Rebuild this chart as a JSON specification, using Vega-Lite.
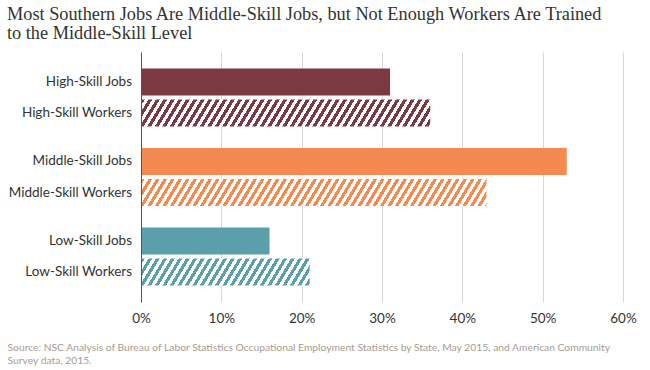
{
  "$schema": "https://vega.github.io/schema/vega-lite/v6.json",
  "width": 482,
  "height": 250,
  "autosize": "none",
  "padding": {"left": 141, "top": 52, "right": 27, "bottom": 68},
  "background": "white",
  "config": {"view": {"stroke": null}},
  "title": {
    "text": ["Most Southern Jobs Are Middle-Skill Jobs, but Not Enough Workers Are Trained", "to the Middle-Skill Level"],
    "anchor": "start",
    "frame": "group",
    "dx": -134,
    "offset": 9,
    "font": "Liberation Serif",
    "fontSize": 18.3,
    "fontWeight": "normal",
    "color": "#333333",
    "lineHeight": 19
  },
  "data": {
    "values": [
      {"group": "High", "type": "Jobs", "label": "High-Skill Jobs", "value": 31},
      {"group": "High", "type": "Workers", "label": "High-Skill Workers", "value": 36},
      {"group": "Middle", "type": "Jobs", "label": "Middle-Skill Jobs", "value": 53},
      {"group": "Middle", "type": "Workers", "label": "Middle-Skill Workers", "value": 43},
      {"group": "Low", "type": "Jobs", "label": "Low-Skill Jobs", "value": 16},
      {"group": "Low", "type": "Workers", "label": "Low-Skill Workers", "value": 21}
    ]
  },
  "encoding": {
    "y": {
      "field": "group",
      "type": "nominal",
      "sort": ["High", "Middle", "Low"],
      "scale": {"paddingInner": 0, "paddingOuter": 0.072},
      "axis": {"title": null, "labels": false, "ticks": false, "domain": true, "domainColor": "#555555", "domainWidth": 1, "grid": false, "zindex": 1}
    },
    "yOffset": {
      "field": "type",
      "type": "nominal",
      "sort": ["Jobs", "Workers"],
      "scale": {"paddingInner": 0.129, "paddingOuter": 0.347}
    },
    "x": {
      "field": "value",
      "type": "quantitative",
      "scale": {"domain": [0, 60], "nice": false},
      "axis": {
        "values": [0, 10, 20, 30, 40, 50, 60],
        "labelExpr": "datum.value + '%'",
        "labelFlush": false,
        "grid": true,
        "gridColor": "#d9d9d9",
        "gridWidth": 1,
        "domain": false,
        "ticks": false,
        "labelFont": "Lato",
        "labelFontSize": 13.5,
        "labelColor": "#333333",
        "labelPadding": 9,
        "title": ["Source: NSC Analysis of Bureau of Labor Statistics Occupational Employment Statistics by State, May 2015, and American Community", "Survey data, 2015."],
        "titleX": -134,
        "titleY": 48,
        "titleAlign": "left",
        "titleAnchor": "start",
        "titleBaseline": "alphabetic",
        "titleFont": "Lato",
        "titleFontSize": 10.3,
        "titleFontWeight": "normal",
        "titleColor": "#a89b90",
        "titleLineHeight": 13,
        "zindex": 0
      }
    }
  },
  "layer": [
    {
      "transform": [{"filter": "datum.type == 'Jobs'"}],
      "mark": {"type": "bar", "strokeWidth": 0},
      "encoding": {
        "color": {
          "field": "group",
          "type": "nominal",
          "scale": {"domain": ["High", "Middle", "Low"], "range": ["#7b3942", "#f48a50", "#5b9faa"]},
          "legend": null
        }
      }
    },
    {
      "transform": [{"filter": "datum.label == 'High-Skill Workers'"}],
      "mark": {
        "type": "bar",
        "strokeWidth": 0,
        "fill": {
          "gradient": "linear", "x1": 0, "y1": 0, "x2": 1.29262, "y2": 0.072408,
          "stops": [
            {"offset":0,"color":"#7b3942"},{"offset":0.01,"color":"#7b3942"},{"offset":0.01,"color":"#fff"},{"offset":0.02,"color":"#fff"},
            {"offset":0.02,"color":"#7b3942"},{"offset":0.03,"color":"#7b3942"},{"offset":0.03,"color":"#fff"},{"offset":0.04,"color":"#fff"},
            {"offset":0.04,"color":"#7b3942"},{"offset":0.05,"color":"#7b3942"},{"offset":0.05,"color":"#fff"},{"offset":0.06,"color":"#fff"},
            {"offset":0.06,"color":"#7b3942"},{"offset":0.07,"color":"#7b3942"},{"offset":0.07,"color":"#fff"},{"offset":0.08,"color":"#fff"},
            {"offset":0.08,"color":"#7b3942"},{"offset":0.09,"color":"#7b3942"},{"offset":0.09,"color":"#fff"},{"offset":0.10,"color":"#fff"},
            {"offset":0.10,"color":"#7b3942"},{"offset":0.11,"color":"#7b3942"},{"offset":0.11,"color":"#fff"},{"offset":0.12,"color":"#fff"},
            {"offset":0.12,"color":"#7b3942"},{"offset":0.13,"color":"#7b3942"},{"offset":0.13,"color":"#fff"},{"offset":0.14,"color":"#fff"},
            {"offset":0.14,"color":"#7b3942"},{"offset":0.15,"color":"#7b3942"},{"offset":0.15,"color":"#fff"},{"offset":0.16,"color":"#fff"},
            {"offset":0.16,"color":"#7b3942"},{"offset":0.17,"color":"#7b3942"},{"offset":0.17,"color":"#fff"},{"offset":0.18,"color":"#fff"},
            {"offset":0.18,"color":"#7b3942"},{"offset":0.19,"color":"#7b3942"},{"offset":0.19,"color":"#fff"},{"offset":0.20,"color":"#fff"},
            {"offset":0.20,"color":"#7b3942"},{"offset":0.21,"color":"#7b3942"},{"offset":0.21,"color":"#fff"},{"offset":0.22,"color":"#fff"},
            {"offset":0.22,"color":"#7b3942"},{"offset":0.23,"color":"#7b3942"},{"offset":0.23,"color":"#fff"},{"offset":0.24,"color":"#fff"},
            {"offset":0.24,"color":"#7b3942"},{"offset":0.25,"color":"#7b3942"},{"offset":0.25,"color":"#fff"},{"offset":0.26,"color":"#fff"},
            {"offset":0.26,"color":"#7b3942"},{"offset":0.27,"color":"#7b3942"},{"offset":0.27,"color":"#fff"},{"offset":0.28,"color":"#fff"},
            {"offset":0.28,"color":"#7b3942"},{"offset":0.29,"color":"#7b3942"},{"offset":0.29,"color":"#fff"},{"offset":0.30,"color":"#fff"},
            {"offset":0.30,"color":"#7b3942"},{"offset":0.31,"color":"#7b3942"},{"offset":0.31,"color":"#fff"},{"offset":0.32,"color":"#fff"},
            {"offset":0.32,"color":"#7b3942"},{"offset":0.33,"color":"#7b3942"},{"offset":0.33,"color":"#fff"},{"offset":0.34,"color":"#fff"},
            {"offset":0.34,"color":"#7b3942"},{"offset":0.35,"color":"#7b3942"},{"offset":0.35,"color":"#fff"},{"offset":0.36,"color":"#fff"},
            {"offset":0.36,"color":"#7b3942"},{"offset":0.37,"color":"#7b3942"},{"offset":0.37,"color":"#fff"},{"offset":0.38,"color":"#fff"},
            {"offset":0.38,"color":"#7b3942"},{"offset":0.39,"color":"#7b3942"},{"offset":0.39,"color":"#fff"},{"offset":0.40,"color":"#fff"},
            {"offset":0.40,"color":"#7b3942"},{"offset":0.41,"color":"#7b3942"},{"offset":0.41,"color":"#fff"},{"offset":0.42,"color":"#fff"},
            {"offset":0.42,"color":"#7b3942"},{"offset":0.43,"color":"#7b3942"},{"offset":0.43,"color":"#fff"},{"offset":0.44,"color":"#fff"},
            {"offset":0.44,"color":"#7b3942"},{"offset":0.45,"color":"#7b3942"},{"offset":0.45,"color":"#fff"},{"offset":0.46,"color":"#fff"},
            {"offset":0.46,"color":"#7b3942"},{"offset":0.47,"color":"#7b3942"},{"offset":0.47,"color":"#fff"},{"offset":0.48,"color":"#fff"},
            {"offset":0.48,"color":"#7b3942"},{"offset":0.49,"color":"#7b3942"},{"offset":0.49,"color":"#fff"},{"offset":0.50,"color":"#fff"},
            {"offset":0.50,"color":"#7b3942"},{"offset":0.51,"color":"#7b3942"},{"offset":0.51,"color":"#fff"},{"offset":0.52,"color":"#fff"},
            {"offset":0.52,"color":"#7b3942"},{"offset":0.53,"color":"#7b3942"},{"offset":0.53,"color":"#fff"},{"offset":0.54,"color":"#fff"},
            {"offset":0.54,"color":"#7b3942"},{"offset":0.55,"color":"#7b3942"},{"offset":0.55,"color":"#fff"},{"offset":0.56,"color":"#fff"},
            {"offset":0.56,"color":"#7b3942"},{"offset":0.57,"color":"#7b3942"},{"offset":0.57,"color":"#fff"},{"offset":0.58,"color":"#fff"},
            {"offset":0.58,"color":"#7b3942"},{"offset":0.59,"color":"#7b3942"},{"offset":0.59,"color":"#fff"},{"offset":0.60,"color":"#fff"},
            {"offset":0.60,"color":"#7b3942"},{"offset":0.61,"color":"#7b3942"},{"offset":0.61,"color":"#fff"},{"offset":0.62,"color":"#fff"},
            {"offset":0.62,"color":"#7b3942"},{"offset":0.63,"color":"#7b3942"},{"offset":0.63,"color":"#fff"},{"offset":0.64,"color":"#fff"},
            {"offset":0.64,"color":"#7b3942"},{"offset":0.65,"color":"#7b3942"},{"offset":0.65,"color":"#fff"},{"offset":0.66,"color":"#fff"},
            {"offset":0.66,"color":"#7b3942"},{"offset":0.67,"color":"#7b3942"},{"offset":0.67,"color":"#fff"},{"offset":0.68,"color":"#fff"},
            {"offset":0.68,"color":"#7b3942"},{"offset":0.69,"color":"#7b3942"},{"offset":0.69,"color":"#fff"},{"offset":0.70,"color":"#fff"},
            {"offset":0.70,"color":"#7b3942"},{"offset":0.71,"color":"#7b3942"},{"offset":0.71,"color":"#fff"},{"offset":0.72,"color":"#fff"},
            {"offset":0.72,"color":"#7b3942"},{"offset":0.73,"color":"#7b3942"},{"offset":0.73,"color":"#fff"},{"offset":0.74,"color":"#fff"},
            {"offset":0.74,"color":"#7b3942"},{"offset":0.75,"color":"#7b3942"},{"offset":0.75,"color":"#fff"},{"offset":0.76,"color":"#fff"},
            {"offset":0.76,"color":"#7b3942"},{"offset":0.77,"color":"#7b3942"},{"offset":0.77,"color":"#fff"},{"offset":0.78,"color":"#fff"},
            {"offset":0.78,"color":"#7b3942"},{"offset":0.79,"color":"#7b3942"},{"offset":0.79,"color":"#fff"},{"offset":0.80,"color":"#fff"},
            {"offset":0.80,"color":"#7b3942"},{"offset":0.81,"color":"#7b3942"},{"offset":0.81,"color":"#fff"},{"offset":0.82,"color":"#fff"},
            {"offset":0.82,"color":"#7b3942"},{"offset":0.83,"color":"#7b3942"},{"offset":0.83,"color":"#fff"},{"offset":0.84,"color":"#fff"},
            {"offset":0.84,"color":"#7b3942"},{"offset":0.85,"color":"#7b3942"},{"offset":0.85,"color":"#fff"},{"offset":0.86,"color":"#fff"}
          ]
        }
      }
    },
    {
      "transform": [{"filter": "datum.label == 'Middle-Skill Workers'"}],
      "mark": {
        "type": "bar",
        "strokeWidth": 0,
        "fill": {
          "gradient": "linear", "x1": 0, "y1": 0, "x2": 1.08331, "y2": 0.050809,
          "stops": [
            {"offset":0,"color":"#f48a50"},{"offset":0.01,"color":"#f48a50"},{"offset":0.01,"color":"#fff"},{"offset":0.02,"color":"#fff"},
            {"offset":0.02,"color":"#f48a50"},{"offset":0.03,"color":"#f48a50"},{"offset":0.03,"color":"#fff"},{"offset":0.04,"color":"#fff"},
            {"offset":0.04,"color":"#f48a50"},{"offset":0.05,"color":"#f48a50"},{"offset":0.05,"color":"#fff"},{"offset":0.06,"color":"#fff"},
            {"offset":0.06,"color":"#f48a50"},{"offset":0.07,"color":"#f48a50"},{"offset":0.07,"color":"#fff"},{"offset":0.08,"color":"#fff"},
            {"offset":0.08,"color":"#f48a50"},{"offset":0.09,"color":"#f48a50"},{"offset":0.09,"color":"#fff"},{"offset":0.10,"color":"#fff"},
            {"offset":0.10,"color":"#f48a50"},{"offset":0.11,"color":"#f48a50"},{"offset":0.11,"color":"#fff"},{"offset":0.12,"color":"#fff"},
            {"offset":0.12,"color":"#f48a50"},{"offset":0.13,"color":"#f48a50"},{"offset":0.13,"color":"#fff"},{"offset":0.14,"color":"#fff"},
            {"offset":0.14,"color":"#f48a50"},{"offset":0.15,"color":"#f48a50"},{"offset":0.15,"color":"#fff"},{"offset":0.16,"color":"#fff"},
            {"offset":0.16,"color":"#f48a50"},{"offset":0.17,"color":"#f48a50"},{"offset":0.17,"color":"#fff"},{"offset":0.18,"color":"#fff"},
            {"offset":0.18,"color":"#f48a50"},{"offset":0.19,"color":"#f48a50"},{"offset":0.19,"color":"#fff"},{"offset":0.20,"color":"#fff"},
            {"offset":0.20,"color":"#f48a50"},{"offset":0.21,"color":"#f48a50"},{"offset":0.21,"color":"#fff"},{"offset":0.22,"color":"#fff"},
            {"offset":0.22,"color":"#f48a50"},{"offset":0.23,"color":"#f48a50"},{"offset":0.23,"color":"#fff"},{"offset":0.24,"color":"#fff"},
            {"offset":0.24,"color":"#f48a50"},{"offset":0.25,"color":"#f48a50"},{"offset":0.25,"color":"#fff"},{"offset":0.26,"color":"#fff"},
            {"offset":0.26,"color":"#f48a50"},{"offset":0.27,"color":"#f48a50"},{"offset":0.27,"color":"#fff"},{"offset":0.28,"color":"#fff"},
            {"offset":0.28,"color":"#f48a50"},{"offset":0.29,"color":"#f48a50"},{"offset":0.29,"color":"#fff"},{"offset":0.30,"color":"#fff"},
            {"offset":0.30,"color":"#f48a50"},{"offset":0.31,"color":"#f48a50"},{"offset":0.31,"color":"#fff"},{"offset":0.32,"color":"#fff"},
            {"offset":0.32,"color":"#f48a50"},{"offset":0.33,"color":"#f48a50"},{"offset":0.33,"color":"#fff"},{"offset":0.34,"color":"#fff"},
            {"offset":0.34,"color":"#f48a50"},{"offset":0.35,"color":"#f48a50"},{"offset":0.35,"color":"#fff"},{"offset":0.36,"color":"#fff"},
            {"offset":0.36,"color":"#f48a50"},{"offset":0.37,"color":"#f48a50"},{"offset":0.37,"color":"#fff"},{"offset":0.38,"color":"#fff"},
            {"offset":0.38,"color":"#f48a50"},{"offset":0.39,"color":"#f48a50"},{"offset":0.39,"color":"#fff"},{"offset":0.40,"color":"#fff"},
            {"offset":0.40,"color":"#f48a50"},{"offset":0.41,"color":"#f48a50"},{"offset":0.41,"color":"#fff"},{"offset":0.42,"color":"#fff"},
            {"offset":0.42,"color":"#f48a50"},{"offset":0.43,"color":"#f48a50"},{"offset":0.43,"color":"#fff"},{"offset":0.44,"color":"#fff"},
            {"offset":0.44,"color":"#f48a50"},{"offset":0.45,"color":"#f48a50"},{"offset":0.45,"color":"#fff"},{"offset":0.46,"color":"#fff"},
            {"offset":0.46,"color":"#f48a50"},{"offset":0.47,"color":"#f48a50"},{"offset":0.47,"color":"#fff"},{"offset":0.48,"color":"#fff"},
            {"offset":0.48,"color":"#f48a50"},{"offset":0.49,"color":"#f48a50"},{"offset":0.49,"color":"#fff"},{"offset":0.50,"color":"#fff"},
            {"offset":0.50,"color":"#f48a50"},{"offset":0.51,"color":"#f48a50"},{"offset":0.51,"color":"#fff"},{"offset":0.52,"color":"#fff"},
            {"offset":0.52,"color":"#f48a50"},{"offset":0.53,"color":"#f48a50"},{"offset":0.53,"color":"#fff"},{"offset":0.54,"color":"#fff"},
            {"offset":0.54,"color":"#f48a50"},{"offset":0.55,"color":"#f48a50"},{"offset":0.55,"color":"#fff"},{"offset":0.56,"color":"#fff"},
            {"offset":0.56,"color":"#f48a50"},{"offset":0.57,"color":"#f48a50"},{"offset":0.57,"color":"#fff"},{"offset":0.58,"color":"#fff"},
            {"offset":0.58,"color":"#f48a50"},{"offset":0.59,"color":"#f48a50"},{"offset":0.59,"color":"#fff"},{"offset":0.60,"color":"#fff"},
            {"offset":0.60,"color":"#f48a50"},{"offset":0.61,"color":"#f48a50"},{"offset":0.61,"color":"#fff"},{"offset":0.62,"color":"#fff"},
            {"offset":0.62,"color":"#f48a50"},{"offset":0.63,"color":"#f48a50"},{"offset":0.63,"color":"#fff"},{"offset":0.64,"color":"#fff"},
            {"offset":0.64,"color":"#f48a50"},{"offset":0.65,"color":"#f48a50"},{"offset":0.65,"color":"#fff"},{"offset":0.66,"color":"#fff"},
            {"offset":0.66,"color":"#f48a50"},{"offset":0.67,"color":"#f48a50"},{"offset":0.67,"color":"#fff"},{"offset":0.68,"color":"#fff"},
            {"offset":0.68,"color":"#f48a50"},{"offset":0.69,"color":"#f48a50"},{"offset":0.69,"color":"#fff"},{"offset":0.70,"color":"#fff"},
            {"offset":0.70,"color":"#f48a50"},{"offset":0.71,"color":"#f48a50"},{"offset":0.71,"color":"#fff"},{"offset":0.72,"color":"#fff"},
            {"offset":0.72,"color":"#f48a50"},{"offset":0.73,"color":"#f48a50"},{"offset":0.73,"color":"#fff"},{"offset":0.74,"color":"#fff"},
            {"offset":0.74,"color":"#f48a50"},{"offset":0.75,"color":"#f48a50"},{"offset":0.75,"color":"#fff"},{"offset":0.76,"color":"#fff"},
            {"offset":0.76,"color":"#f48a50"},{"offset":0.77,"color":"#f48a50"},{"offset":0.77,"color":"#fff"},{"offset":0.78,"color":"#fff"},
            {"offset":0.78,"color":"#f48a50"},{"offset":0.79,"color":"#f48a50"},{"offset":0.79,"color":"#fff"},{"offset":0.80,"color":"#fff"},
            {"offset":0.80,"color":"#f48a50"},{"offset":0.81,"color":"#f48a50"},{"offset":0.81,"color":"#fff"},{"offset":0.82,"color":"#fff"},
            {"offset":0.82,"color":"#f48a50"},{"offset":0.83,"color":"#f48a50"},{"offset":0.83,"color":"#fff"},{"offset":0.84,"color":"#fff"},
            {"offset":0.84,"color":"#f48a50"},{"offset":0.85,"color":"#f48a50"},{"offset":0.85,"color":"#fff"},{"offset":0.86,"color":"#fff"},
            {"offset":0.86,"color":"#f48a50"},{"offset":0.87,"color":"#f48a50"},{"offset":0.87,"color":"#fff"},{"offset":0.88,"color":"#fff"},
            {"offset":0.88,"color":"#f48a50"},{"offset":0.89,"color":"#f48a50"},{"offset":0.89,"color":"#fff"},{"offset":0.90,"color":"#fff"},
            {"offset":0.90,"color":"#f48a50"},{"offset":0.91,"color":"#f48a50"},{"offset":0.91,"color":"#fff"},{"offset":0.92,"color":"#fff"},
            {"offset":0.92,"color":"#f48a50"},{"offset":0.93,"color":"#f48a50"},{"offset":0.93,"color":"#fff"},{"offset":0.94,"color":"#fff"},
            {"offset":0.94,"color":"#f48a50"},{"offset":0.95,"color":"#f48a50"},{"offset":0.95,"color":"#fff"},{"offset":0.96,"color":"#fff"},
            {"offset":0.96,"color":"#f48a50"},{"offset":0.97,"color":"#f48a50"},{"offset":0.97,"color":"#fff"},{"offset":0.98,"color":"#fff"},
            {"offset":0.98,"color":"#f48a50"},{"offset":0.99,"color":"#f48a50"},{"offset":0.99,"color":"#fff"},{"offset":1,"color":"#fff"}
          ]
        }
      }
    },
    {
      "transform": [{"filter": "datum.label == 'Low-Skill Workers'"}],
      "mark": {
        "type": "bar",
        "strokeWidth": 0,
        "fill": {
          "gradient": "linear", "x1": 0, "y1": 0, "x2": 2.2026, "y2": 0.211512,
          "stops": [
            {"offset":0,"color":"#5b9faa"},{"offset":0.01,"color":"#5b9faa"},{"offset":0.01,"color":"#fff"},{"offset":0.02,"color":"#fff"},
            {"offset":0.02,"color":"#5b9faa"},{"offset":0.03,"color":"#5b9faa"},{"offset":0.03,"color":"#fff"},{"offset":0.04,"color":"#fff"},
            {"offset":0.04,"color":"#5b9faa"},{"offset":0.05,"color":"#5b9faa"},{"offset":0.05,"color":"#fff"},{"offset":0.06,"color":"#fff"},
            {"offset":0.06,"color":"#5b9faa"},{"offset":0.07,"color":"#5b9faa"},{"offset":0.07,"color":"#fff"},{"offset":0.08,"color":"#fff"},
            {"offset":0.08,"color":"#5b9faa"},{"offset":0.09,"color":"#5b9faa"},{"offset":0.09,"color":"#fff"},{"offset":0.10,"color":"#fff"},
            {"offset":0.10,"color":"#5b9faa"},{"offset":0.11,"color":"#5b9faa"},{"offset":0.11,"color":"#fff"},{"offset":0.12,"color":"#fff"},
            {"offset":0.12,"color":"#5b9faa"},{"offset":0.13,"color":"#5b9faa"},{"offset":0.13,"color":"#fff"},{"offset":0.14,"color":"#fff"},
            {"offset":0.14,"color":"#5b9faa"},{"offset":0.15,"color":"#5b9faa"},{"offset":0.15,"color":"#fff"},{"offset":0.16,"color":"#fff"},
            {"offset":0.16,"color":"#5b9faa"},{"offset":0.17,"color":"#5b9faa"},{"offset":0.17,"color":"#fff"},{"offset":0.18,"color":"#fff"},
            {"offset":0.18,"color":"#5b9faa"},{"offset":0.19,"color":"#5b9faa"},{"offset":0.19,"color":"#fff"},{"offset":0.20,"color":"#fff"},
            {"offset":0.20,"color":"#5b9faa"},{"offset":0.21,"color":"#5b9faa"},{"offset":0.21,"color":"#fff"},{"offset":0.22,"color":"#fff"},
            {"offset":0.22,"color":"#5b9faa"},{"offset":0.23,"color":"#5b9faa"},{"offset":0.23,"color":"#fff"},{"offset":0.24,"color":"#fff"},
            {"offset":0.24,"color":"#5b9faa"},{"offset":0.25,"color":"#5b9faa"},{"offset":0.25,"color":"#fff"},{"offset":0.26,"color":"#fff"},
            {"offset":0.26,"color":"#5b9faa"},{"offset":0.27,"color":"#5b9faa"},{"offset":0.27,"color":"#fff"},{"offset":0.28,"color":"#fff"},
            {"offset":0.28,"color":"#5b9faa"},{"offset":0.29,"color":"#5b9faa"},{"offset":0.29,"color":"#fff"},{"offset":0.30,"color":"#fff"},
            {"offset":0.30,"color":"#5b9faa"},{"offset":0.31,"color":"#5b9faa"},{"offset":0.31,"color":"#fff"},{"offset":0.32,"color":"#fff"},
            {"offset":0.32,"color":"#5b9faa"},{"offset":0.33,"color":"#5b9faa"},{"offset":0.33,"color":"#fff"},{"offset":0.34,"color":"#fff"},
            {"offset":0.34,"color":"#5b9faa"},{"offset":0.35,"color":"#5b9faa"},{"offset":0.35,"color":"#fff"},{"offset":0.36,"color":"#fff"},
            {"offset":0.36,"color":"#5b9faa"},{"offset":0.37,"color":"#5b9faa"},{"offset":0.37,"color":"#fff"},{"offset":0.38,"color":"#fff"},
            {"offset":0.38,"color":"#5b9faa"},{"offset":0.39,"color":"#5b9faa"},{"offset":0.39,"color":"#fff"},{"offset":0.40,"color":"#fff"},
            {"offset":0.40,"color":"#5b9faa"},{"offset":0.41,"color":"#5b9faa"},{"offset":0.41,"color":"#fff"},{"offset":0.42,"color":"#fff"},
            {"offset":0.42,"color":"#5b9faa"},{"offset":0.43,"color":"#5b9faa"},{"offset":0.43,"color":"#fff"},{"offset":0.44,"color":"#fff"},
            {"offset":0.44,"color":"#5b9faa"},{"offset":0.45,"color":"#5b9faa"},{"offset":0.45,"color":"#fff"},{"offset":0.46,"color":"#fff"},
            {"offset":0.46,"color":"#5b9faa"},{"offset":0.47,"color":"#5b9faa"},{"offset":0.47,"color":"#fff"},{"offset":0.48,"color":"#fff"},
            {"offset":0.48,"color":"#5b9faa"},{"offset":0.49,"color":"#5b9faa"},{"offset":0.49,"color":"#fff"},{"offset":0.50,"color":"#fff"},
            {"offset":0.50,"color":"#5b9faa"},{"offset":0.51,"color":"#5b9faa"},{"offset":0.51,"color":"#fff"},{"offset":0.52,"color":"#fff"},
            {"offset":0.52,"color":"#5b9faa"},{"offset":0.53,"color":"#5b9faa"},{"offset":0.53,"color":"#fff"},{"offset":0.54,"color":"#fff"},
            {"offset":0.54,"color":"#5b9faa"},{"offset":0.55,"color":"#5b9faa"},{"offset":0.55,"color":"#fff"},{"offset":0.56,"color":"#fff"}
          ]
        }
      }
    },
    {
      "mark": {"type": "text", "align": "right", "baseline": "middle", "dx": -9, "font": "Lato", "fontSize": 13.5, "color": "#333333"},
      "encoding": {
        "x": {"datum": 0},
        "text": {"field": "label", "type": "nominal"}
      }
    }
  ]
}
